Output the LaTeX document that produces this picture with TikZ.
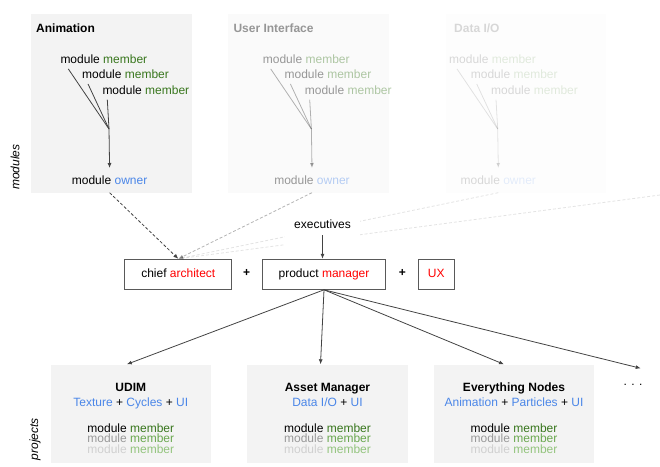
\documentclass[tikz,border=0pt]{standalone}
\usepackage{fontspec}
\setmainfont{Liberation Sans}
\usetikzlibrary{arrows.meta}
\definecolor{fillgrey}{HTML}{F3F3F3}
\definecolor{linegrey}{HTML}{434343}
\definecolor{edgegrey}{HTML}{595959}
\definecolor{ownblue}{HTML}{4A86E8}
\definecolor{leadred}{HTML}{FF0000}
\definecolor{greenA}{HTML}{38761D}
\definecolor{greenB}{HTML}{6AA84F}
\definecolor{greenC}{HTML}{93C47D}
\definecolor{greyB}{HTML}{999999}
\definecolor{greyC}{HTML}{D0D0D0}
\newcommand{\mem}{\textcolor{greenA}{member}}
\newcommand{\bl}[1]{\textcolor{ownblue}{#1}}
\begin{document}
\begin{tikzpicture}[x=1pt,y=-1pt,font=\fontsize{12}{14}\selectfont,
  panel/.style={fill=fillgrey,inner sep=0pt,minimum width=160.5pt},
  head/.style={font=\fontsize{12}{14}\selectfont\bfseries,anchor=base,inner sep=0pt},
  member/.style={anchor=base west,inner xsep=0pt,inner ysep=5pt},
  owner/.style={anchor=base west,inner xsep=0pt,inner ysep=7.7pt},
  role/.style={draw=edgegrey,line width=1pt,inner sep=0pt,minimum height=30pt,text height=9pt,text depth=2.5pt},
  plus/.style={font=\fontsize{12}{14}\selectfont\bfseries,inner sep=0pt},
  feed/.style={draw=linegrey,line width=0.8pt},
  tip/.style={-{Latex[length=5pt,width=4pt]}},
  link/.style={feed,tip},
  upline/.style={draw=linegrey,line width=0.8pt,dash pattern=on 3pt off 2pt,tip}]
\useasboundingbox (0,0) rectangle (660,466);
\node[role,minimum width=106.7pt] (ca) at (178.3,274.3) {chief \textcolor{leadred}{architect}};
\node[plus] (plus1) at (246.7,272.7) {+};
\node[role,minimum width=123.4pt] (pm) at (324,274.3) {product \textcolor{leadred}{manager}};
\node[plus] (plus2) at (402.3,272.7) {+};
\node[role,minimum width=36pt] (ux) at (436.3,274.3) {\textcolor{leadred}{UX}};
\foreach \bx/\tx/\mx/\ttl/\nm/\op in {31/36/60.3/Animation/anim/1, 228/233.3/262.7/User Interface/ui/0.4, 445.7/454/449/{Data I/O}/dio/0.15}{
  \begin{scope}[opacity=\op]
    \node[panel,anchor=north west,minimum height=179pt] (\nm-box) at (\bx,13.3) {};
    \node[head,anchor=base west] (\nm-head) at (\tx,32) {\ttl};
    \node[member] (\nm-m1) at (\mx,63.6) {module \mem};
    \node[member] (\nm-m2) at ({\mx+21.7},78.6) {module \mem};
    \node[member] (\nm-m3) at ({\mx+42},94.3) {module \mem};
    \coordinate (\nm-join) at ({\mx+48.7},129);
    \node[owner] (\nm-own) at ({\mx+11.4},184.6) {module \textcolor{ownblue}{owner}};
    \foreach \i/\dx in {1/8,2/6,3/5}
      \draw[feed] ([xshift=\dx pt]\nm-m\i.south west) -- (\nm-join);
    \draw[link] (\nm-join) -- (\nm-own.north);
    \draw[upline] (\nm-own |- \nm-box.south) -- (ca.north);
  \end{scope}}
\coordinate (offmod) at (660,195);
\begin{scope}[opacity=0.15]
  \draw[upline] (offmod) -- (ca.north);
\end{scope}
\node[anchor=base,fill=white,inner sep=0pt,minimum width=75pt,text height=13pt,text depth=18pt] (exec) at (322.5,228.6) {executives};
\draw[link] ([yshift=-6.5pt]exec.base) -- (exec.base |- pm.north);
\node[rotate=90,font=\fontsize{12}{14}\selectfont\itshape] (modlab) at (15,167) {modules};
\node[rotate=90,font=\fontsize{12}{14}\selectfont\itshape] (projlab) at (35,439) {projects};
\foreach \cx/\nm/\ttl/\mlist in {130.8/udim/UDIM/{\bl{Texture} + \bl{Cycles} + \bl{UI}}, 327.5/asset/Asset Manager/{\bl{Data I/O} + \bl{UI}}, 514/nodes/Everything Nodes/{\bl{Animation} + \bl{Particles} + \bl{UI}}}{
  \node[panel,anchor=north,minimum height=98.4pt] (\nm) at (\cx,364.3) {};
  \node[head] (\nm-head) at (\cx,391) {\ttl};
  \node[anchor=base,inner sep=0pt] (\nm-mods) at (\cx,406.3) {\mlist};
  \foreach \j/\mc/\gc in {0/black/greenA,1/greyB/greenB,2/greyC/greenC}
    \node[anchor=base,inner sep=0pt] (\nm-mem\j) at (\cx,{432.6+10.3*\j}) {\textcolor{\mc}{module} \textcolor{\gc}{member}};
}
\coordinate (more) at (640.7,368.3);
\node[anchor=base,inner sep=0pt] (dots) at (633,385.5) {. . .};
\draw[link] (pm.south) -- ([xshift=-4pt]udim.north);
\draw[link] (pm.south) -- ([xshift=-7pt]asset.north);
\draw[link] (pm.south) -- ([xshift=-10pt]nodes.north);
\draw[link] (pm.south) -- (more);
\end{tikzpicture}
\end{document}
